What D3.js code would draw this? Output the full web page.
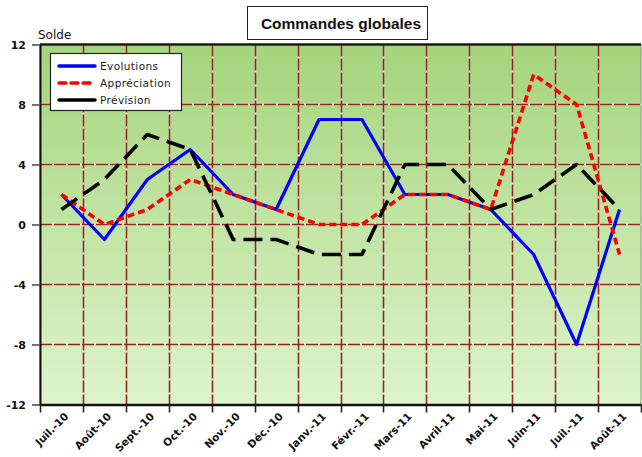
<!DOCTYPE html>
<html lang="fr">
<head>
<meta charset="UTF-8" />
<title>Commandes globales</title>
<style>
  body { margin: 0; background: white; overflow: hidden; }
  svg { display: block; font-family: "DejaVu Sans", Verdana, sans-serif; }
</style>
</head>
<body>
<svg id="chart" width="642" height="457"></svg>
<script src="https://d3js.org/d3.v7.min.js"></script>
<script>
// data
const months = ["Juil.-10", "Août-10", "Sept.-10", "Oct.-10", "Nov.-10", "Déc.-10", "Janv.-11",
  "Févr.-11", "Mars-11", "Avril-11", "Mai-11", "Juin-11", "Juil.-11", "Août-11"];
const evolutions   = [2, -1, 3, 5, 2, 1, 7, 7, 2, 2, 1, -2, -8, 1];
const appreciation = [2, 0, 1, 3, 2, 1, 0, 0, 2, 2, 1, 10, 8, -2];
const prevision    = [1, 3, 6, 5, -1, -1, -2, -2, 4, 4, 1, 2, 4, 1];
const yTicks = [-12, -8, -4, 0, 4, 8, 12];

const series = [
  { name: "Evolutions", values: evolutions, color: "#0000ff", dash: null, width: 3.2 },
  { name: "Appréciation", values: appreciation, color: "#ff0000", dash: "7,4", width: 3.6 },
  { name: "Prévision", values: prevision, color: "#000000", dash: "19,8", width: 3.6 }
];

const svg = d3.select("#chart");
const plotLeft = 40, plotRight = 641, plotTop = 44.5, plotBottom = 404.5;

const x = d3.scaleBand().domain(months).range([plotLeft, plotRight]);
const y = d3.scaleLinear().domain([-12, 12]).range([plotBottom, plotTop]);

// background gradient
const defs = svg.append("defs");
const grad = defs.append("linearGradient")
  .attr("id", "bg").attr("x1", 0).attr("y1", 0).attr("x2", 0).attr("y2", 1);
grad.append("stop").attr("offset", "0%").attr("stop-color", "#a5d47c");
grad.append("stop").attr("offset", "100%").attr("stop-color", "#def4cc");

svg.append("rect")
  .attr("x", plotLeft).attr("y", plotTop)
  .attr("width", plotRight - plotLeft).attr("height", plotBottom - plotTop)
  .attr("fill", "url(#bg)")
  .attr("stroke", "#7a9a60").attr("stroke-width", 1);

// grid lines: light line under a dark dashed one
const grid = svg.append("g");
const vLines = months.slice(1).map(m => x(m));
const hLines = yTicks.filter(t => t > -12 && t < 12);

[["#f2eedc", null], ["#8b2a1c", "12,2"]].forEach(([col, dash]) => {
  grid.append("g").selectAll("line")
    .data(vLines).join("line")
    .attr("x1", d => Math.round(d) + 0.5).attr("x2", d => Math.round(d) + 0.5)
    .attr("y1", plotTop).attr("y2", plotBottom)
    .attr("stroke", col).attr("stroke-width", 1.6)
    .attr("stroke-dasharray", dash);
  grid.append("g").selectAll("line")
    .data(hLines).join("line")
    .attr("x1", plotLeft).attr("x2", plotRight)
    .attr("y1", d => y(d)).attr("y2", d => y(d))
    .attr("stroke", col).attr("stroke-width", 1.6)
    .attr("stroke-dasharray", dash);
});

// top border
svg.append("line")
  .attr("x1", plotLeft).attr("x2", plotRight).attr("y1", plotTop).attr("y2", plotTop)
  .attr("stroke", "#1a1a1a").attr("stroke-width", 2.5);

// series lines
const line = d3.line()
  .x((d, i) => x(months[i]) + x.bandwidth() / 2)
  .y(d => y(d));

svg.append("g").selectAll("path")
  .data(series).join("path")
  .attr("d", d => line(d.values))
  .attr("fill", "none")
  .attr("stroke", d => d.color)
  .attr("stroke-width", d => d.width)
  .attr("stroke-dasharray", d => d.dash)
  .attr("stroke-linejoin", "round");

// y axis
const yAxis = svg.append("g")
  .attr("transform", `translate(${plotLeft},0)`)
  .call(d3.axisLeft(y).tickValues(yTicks).tickFormat(d => String(d))
    .tickSize(8).tickPadding(6).tickSizeOuter(0));
yAxis.select(".domain").attr("stroke", "#111").attr("stroke-width", 2);
yAxis.selectAll(".tick line").attr("stroke", "#444").attr("stroke-width", 1.5);
yAxis.selectAll("text")
  .style("font-family", "'DejaVu Sans', sans-serif")
  .style("font-size", "11px").style("font-weight", "bold").attr("fill", "#111");

// x axis
const xAxis = svg.append("g")
  .attr("transform", `translate(0,${plotBottom})`)
  .call(d3.axisBottom(x).tickSize(0).tickSizeOuter(0));
xAxis.select(".domain").attr("stroke", "#111").attr("stroke-width", 2.5);
xAxis.selectAll(".tick text")
  .style("font-family", "'DejaVu Sans', sans-serif")
  .style("font-size", "10.5px").style("font-weight", "bold").attr("fill", "#111")
  .attr("text-anchor", "end")
  .attr("transform", "translate(5,10) rotate(-45)")
  .attr("dy", "0.35em").attr("y", 0);

// x boundary ticks
svg.append("g").selectAll("line")
  .data(months.map(m => x(m)).concat([plotRight]))
  .join("line")
  .attr("x1", d => Math.round(d) + 0.5).attr("x2", d => Math.round(d) + 0.5)
  .attr("y1", plotBottom).attr("y2", plotBottom + 8)
  .attr("stroke", "#222").attr("stroke-width", 1.6);

// axis title
svg.append("text")
  .attr("x", 38).attr("y", 39)
  .style("font-size", "12px").attr("fill", "#111")
  .text("Solde");

// chart title
svg.append("rect")
  .attr("x", 247.5).attr("y", 6.5).attr("width", 180).attr("height", 33)
  .attr("fill", "white").attr("stroke", "#222").attr("stroke-width", 1);
svg.append("text")
  .attr("x", 341).attr("y", 29)
  .attr("text-anchor", "middle")
  .style("font-family", "'Liberation Sans', Arial, sans-serif")
  .style("font-size", "15.5px").style("font-weight", "bold").attr("fill", "#111")
  .text("Commandes globales");

// legend
const legend = svg.append("g");
legend.append("rect")
  .attr("x", 50.5).attr("y", 53.5).attr("width", 131).attr("height", 57)
  .attr("fill", "white").attr("stroke", "#222").attr("stroke-width", 1.2);
const rows = legend.selectAll("g.row")
  .data(series).join("g")
  .attr("class", "row")
  .attr("transform", (d, i) => `translate(0,${66 + i * 17})`);
rows.append("line")
  .attr("x1", 59).attr("x2", 95).attr("y1", 0).attr("y2", 0)
  .attr("stroke", d => d.color).attr("stroke-width", 3.5)
  .attr("stroke-linecap", "round")
  .attr("stroke-dasharray", d => d.name === "Appréciation" ? "7,5" : null);
rows.append("text")
  .attr("x", 100).attr("y", 4)
  .style("font-size", "10.5px").attr("fill", "#222")
  .attr("letter-spacing", 0.4)
  .text(d => d.name);
</script>
</body>
</html>
